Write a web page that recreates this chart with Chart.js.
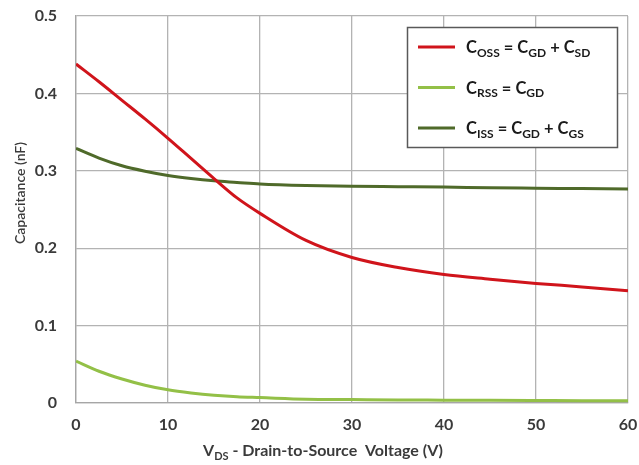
<!DOCTYPE html>
<html>
<head>
<meta charset="utf-8">
<script src="https://cdn.jsdelivr.net/npm/chart.js@4.4.1/dist/chart.umd.min.js"></script>
<style>
  html, body { margin: 0; padding: 0; background: #fff; }
  #wrap { width: 639px; height: 465px; }
</style>
</head>
<body>
<div id="wrap"><canvas id="capChart"></canvas></div>
<script>
// drain-source voltage samples (V)
const vds = [0, 2.5, 5, 7.5, 10, 12.5, 15, 17.5, 20, 25, 30, 35, 40, 45, 50, 55, 60]
// capacitances (nF)
const coss = [0.438, 0.415, 0.391, 0.367, 0.342, 0.316, 0.290, 0.265, 0.245, 0.210, 0.188, 0.175, 0.166, 0.160, 0.1545, 0.150, 0.145]
const crss = [0.054, 0.041, 0.031, 0.023, 0.017, 0.013, 0.010, 0.008, 0.007, 0.005, 0.0045, 0.004, 0.0037, 0.0034, 0.0032, 0.003, 0.003]
const ciss = [0.329, 0.3165, 0.3065, 0.2995, 0.294, 0.290, 0.287, 0.285, 0.283, 0.281, 0.280, 0.2795, 0.279, 0.278, 0.2775, 0.277, 0.2765]

const xTicks = [0, 10, 20, 30, 40, 50, 60]
const yTicks = [0, 0.1, 0.2, 0.3, 0.4, 0.5]

// {..} marks a subscript
const seriesNames = ['C{OSS} = C{GD} + C{SD}', 'C{RSS} = C{GD}', 'C{ISS} = C{GD} + C{GS}']
const seriesColors = ['#d0141b', '#93c047', '#4f6a2a']
const xTitle = 'V{DS} - Drain-to-Source  Voltage (V)'
const yTitle = 'Capacitance (nF)'

const FONT = 'Lato, "Open Sans", sans-serif'
const TEXT = '#3a3a3a'

function toPoints(ys) {
    return vds.map((v, i) => ({ x: v, y: ys[i] }))
}

function parts(str) {
    const out = []
    const re = /([^{]+)|\{([^}]*)\}/g
    let m
    while ((m = re.exec(str))) {
        if (m[1]) out.push({ t: m[1], sub: false })
        else out.push({ t: m[2], sub: true })
    }
    return out
}

// draws text with subscripts, returns width
function drawRich(ctx, str, x, y, size, align) {
    const p = parts(str)
    const subSize = Math.round(size * 0.7)
    let w = 0
    p.forEach(s => {
        ctx.font = 'bold ' + (s.sub ? subSize : size) + 'px ' + FONT
        w += ctx.measureText(s.t).width
    })
    let cx = align === 'center' ? x - w / 2 : x
    ctx.textBaseline = 'alphabetic'
    ctx.textAlign = 'left'
    p.forEach(s => {
        ctx.font = 'bold ' + (s.sub ? subSize : size) + 'px ' + FONT
        ctx.fillText(s.t, cx, s.sub ? y + size * 0.22 : y)
        cx += ctx.measureText(s.t).width
    })
    return w
}

const extras = {
    id: 'extras',
    afterDraw(chart) {
        const ctx = chart.ctx
        ctx.save()
        ctx.fillStyle = TEXT

        // x axis title
        drawRich(ctx, xTitle, 323, 456, 16, 'center')

        // y axis title
        ctx.save()
        ctx.translate(20, 193)
        ctx.rotate(-Math.PI / 2)
        ctx.font = '600 14px ' + FONT
        ctx.textAlign = 'center'
        ctx.textBaseline = 'middle'
        ctx.fillText(yTitle, 0, 0)
        ctx.restore()

        // legend box
        ctx.fillStyle = '#fff'
        ctx.fillRect(407, 27, 211, 121)
        ctx.strokeStyle = '#595959'
        ctx.lineWidth = 1.5
        ctx.strokeRect(407.5, 27.5, 210, 120)
        seriesNames.forEach((name, i) => {
            const y = 47 + i * 40.5
            ctx.strokeStyle = seriesColors[i]
            ctx.lineWidth = 3
            ctx.beginPath()
            ctx.moveTo(418, y)
            ctx.lineTo(455, y)
            ctx.stroke()
            ctx.fillStyle = '#1a1a1a'
            drawRich(ctx, name, 466, y + 6, 16.5, 'left')
        })
        ctx.restore()
    }
}

const data = {
    datasets: seriesNames.map((name, i) => ({
        label: name,
        data: toPoints([coss, crss, ciss][i]),
        borderColor: seriesColors[i],
        borderWidth: 3,
        pointRadius: 0,
        cubicInterpolationMode: 'monotone',
        fill: false
    }))
}

const config = {
    type: 'line',
    data: data,
    options: {
        responsive: true,
        maintainAspectRatio: false,
        animation: false,
        layout: { padding: { top: 16, right: 11, left: 0, bottom: 0 } },
        plugins: {
            legend: { display: false },
            tooltip: { enabled: false }
        },
        scales: {
            x: {
                type: 'linear',
                min: 0,
                max: 60,
                afterBuildTicks: scale => { scale.ticks = xTicks.map(v => ({ value: v })) },
                afterFit: scale => {
                    scale.height = 62
                    scale.paddingLeft = 0
                    scale.paddingRight = 0
                },
                grid: { color: '#b3b3b3', lineWidth: 1.3, drawTicks: false },
                border: { color: '#a6a6a6', width: 1.3 },
                ticks: {
                    padding: 12,
                    color: TEXT,
                    maxRotation: 0,
                    font: { family: FONT, size: 16, weight: 'bold' }
                }
            },
            y: {
                min: 0,
                max: 0.5,
                afterBuildTicks: scale => { scale.ticks = yTicks.map(v => ({ value: v })) },
                afterFit: scale => {
                    scale.width = 76
                    scale.paddingTop = 0
                    scale.paddingBottom = 0
                },
                grid: { color: '#b3b3b3', lineWidth: 1.3, drawTicks: false },
                border: { color: '#a6a6a6', width: 1.3 },
                ticks: {
                    padding: 19,
                    color: TEXT,
                    font: { family: FONT, size: 16, weight: 'bold' },
                    callback: v => v === 0 ? '0' : v.toFixed(1)
                }
            }
        }
    },
    plugins: [extras]
}

let myChart = new Chart(document.getElementById('capChart'), config)
</script>
</body>
</html>
